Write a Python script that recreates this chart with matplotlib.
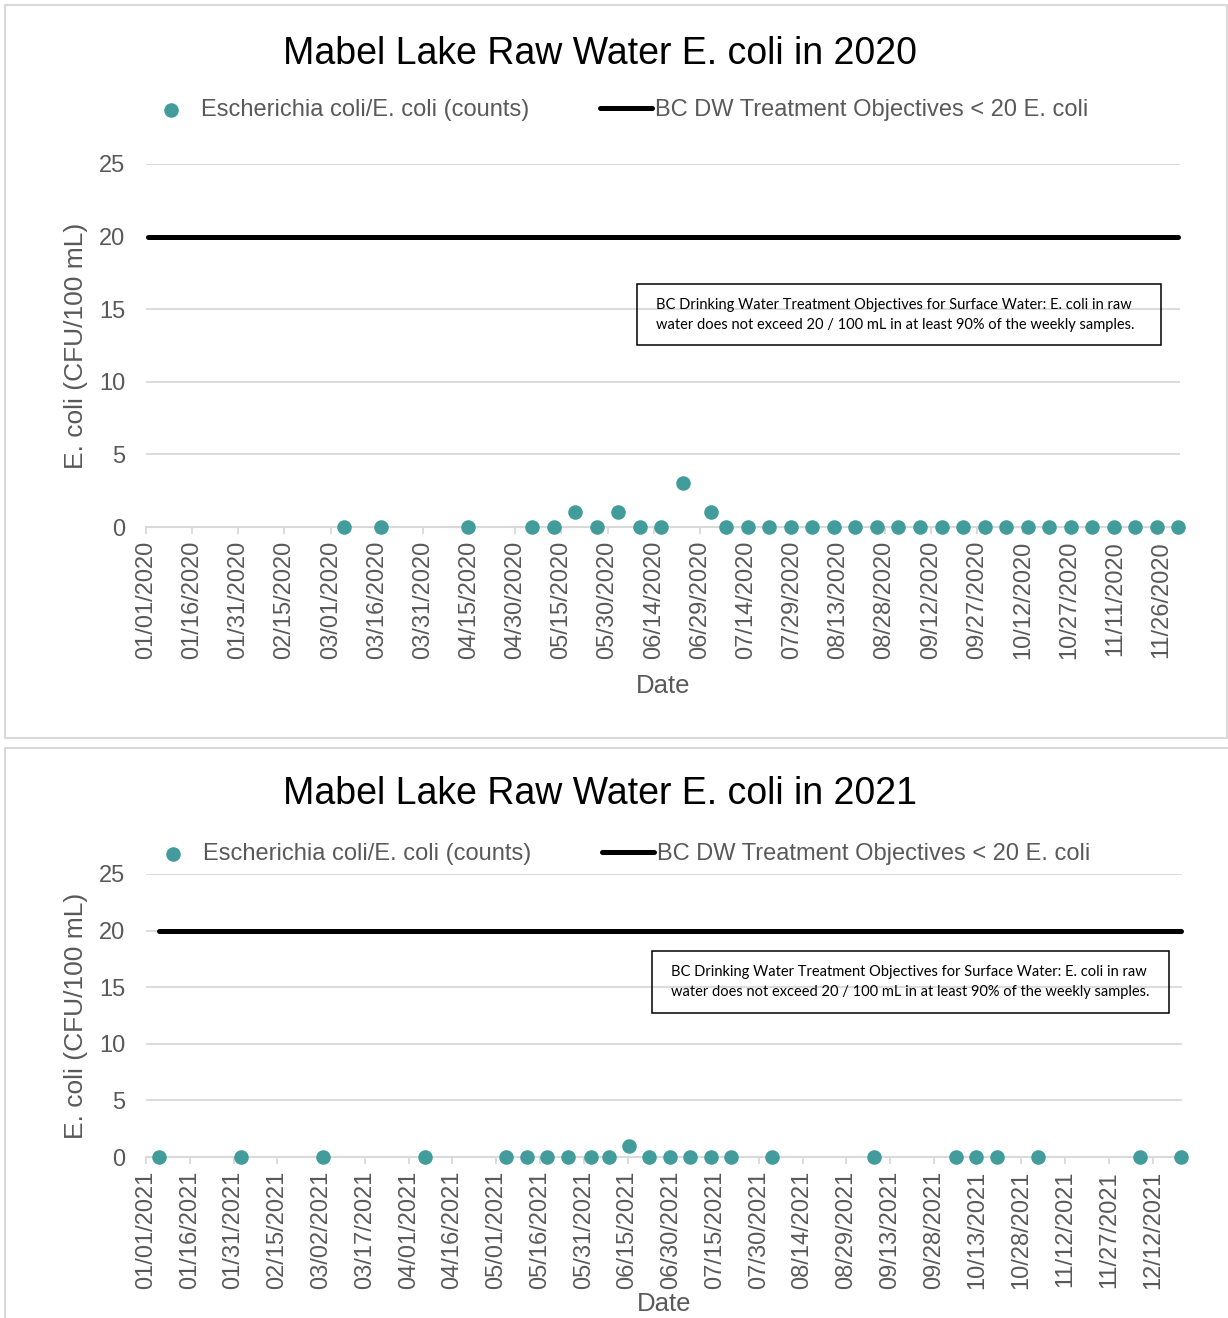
import matplotlib
matplotlib.use("Agg")
import matplotlib.pyplot as plt
import matplotlib.dates as mdates
import matplotlib.patches as patches
import pandas as pd

plt.rcParams["font.family"] = ["Liberation Sans", "DejaVu Sans"]

# weekly raw water samples (CFU/100 mL)
dates_2020 = ["2020-03-05", "2020-03-17", "2020-04-14", "2020-05-05", "2020-05-12",
              "2020-05-19", "2020-05-26", "2020-06-02", "2020-06-09", "2020-06-16",
              "2020-06-23", "2020-07-02", "2020-07-07", "2020-07-14", "2020-07-21",
              "2020-07-28", "2020-08-04", "2020-08-11", "2020-08-18", "2020-08-25",
              "2020-09-01", "2020-09-08", "2020-09-15", "2020-09-22", "2020-09-29",
              "2020-10-06", "2020-10-13", "2020-10-20", "2020-10-27", "2020-11-03",
              "2020-11-10", "2020-11-17", "2020-11-24", "2020-12-01"]
ecoli_2020 = [0, 0, 0, 0, 0,
              1, 0, 1, 0, 0,
              3, 1, 0, 0, 0,
              0, 0, 0, 0, 0,
              0, 0, 0, 0, 0,
              0, 0, 0, 0, 0,
              0, 0, 0, 0]

dates_2021 = ["2021-01-05", "2021-02-02", "2021-03-02", "2021-04-06", "2021-05-04",
              "2021-05-11", "2021-05-18", "2021-05-25", "2021-06-02", "2021-06-08",
              "2021-06-15", "2021-06-22", "2021-06-29", "2021-07-06", "2021-07-13",
              "2021-07-20", "2021-08-03", "2021-09-07", "2021-10-05", "2021-10-12",
              "2021-10-19", "2021-11-02", "2021-12-07", "2021-12-21"]
ecoli_2021 = [0, 0, 0, 0, 0,
              0, 0, 0, 0, 0,
              1, 0, 0, 0, 0,
              0, 0, 0, 0, 0,
              0, 0, 0, 0]

objective = 20
objective_2020 = ["2020-01-01", "2020-12-01"]
objective_2021 = ["2021-01-05", "2021-12-21"]

axis_range_2020 = ["2020-01-01", "2020-12-02"]
axis_range_2021 = ["2021-01-01", "2021-12-22"]

yticks = [0, 5, 10, 15, 20, 25]

series_label = "Escherichia coli/E. coli (counts)"
objective_label = "BC DW Treatment Objectives < 20 E. coli"
note_lines = ["BC Drinking Water Treatment Objectives for Surface Water: E. coli in raw",
              "water does not exceed 20 / 100 mL in at least 90% of the weekly samples."]

TEAL = "#439C9C"
GRID = "#D9D9D9"
GREY_TEXT = "#595959"

W, H = 1228, 1318
fig = plt.figure(figsize=(W / 100, H / 100), dpi=100)


def fx(px):
    return px / W


def fy(py):
    return 1 - py / H


def frame(x0, y0, x1, y1, color, lw):
    fig.patches.append(patches.Rectangle((fx(x0), fy(y1)), fx(x1) - fx(x0), fy(y0) - fy(y1),
                                         transform=fig.transFigure, fill=False,
                                         edgecolor=color, lw=lw))


# outer chart frames
frame(5, 5, 1227, 738, GRID, 1.5)
frame(5, 748, 1245, 1340, GRID, 1.5)


def draw_chart(year, dates, values, obj_dates, xrange, lay):
    left, right, top, bottom = lay["plot"]
    ax = fig.add_axes([fx(left), fy(bottom), fx(right) - fx(left), fy(top) - fy(bottom)])

    # date axis: each sample sits in the middle of its day slot
    half_day = pd.Timedelta(hours=12)
    x = pd.to_datetime(dates) + half_day
    xo = pd.to_datetime(obj_dates) + half_day

    ln, = ax.plot(xo, [objective, objective], color="black", lw=3.6,
                  solid_capstyle="round", zorder=2, clip_on=False)
    sc = ax.scatter(x, values, s=110, color=TEAL, linewidths=0, zorder=3, clip_on=False)

    x0, x1 = pd.to_datetime(xrange)
    ax.set_xlim(x0, x1)
    ax.set_ylim(0, 25)
    ax.set_xticks(pd.date_range(x0, x1, freq="15D"))
    ax.xaxis.set_major_formatter(mdates.DateFormatter("%m/%d/%Y"))
    ax.set_yticks(yticks)

    for s in ["top", "right", "left"]:
        ax.spines[s].set_visible(False)
    ax.spines["bottom"].set_color(GRID)
    ax.spines["bottom"].set_linewidth(1.5)
    ax.yaxis.grid(True, color=GRID, lw=1.3)
    ax.set_axisbelow(True)

    ax.tick_params(axis="y", length=0, pad=15, labelsize=17, labelcolor=GREY_TEXT)
    ax.tick_params(axis="x", length=5, width=1.3, color=GRID, pad=5, labelsize=17,
                   labelcolor=GREY_TEXT, labelrotation=90)

    fig.text(fx(lay["title"][0]), fy(lay["title"][1]), f"Mabel Lake Raw Water E. coli in {year}",
             ha="center", va="baseline", fontsize=27, color="black")

    fig.legend([sc, ln], [series_label, objective_label], loc="center",
               bbox_to_anchor=(fx(lay["legend"][0]), fy(lay["legend"][1])), ncol=2,
               frameon=False, fontsize=17, labelcolor=GREY_TEXT, handlelength=2.2,
               handletextpad=0.15, columnspacing=3.0, borderpad=0, borderaxespad=0,
               scatterpoints=1)

    fig.text(fx(76), fy((top + bottom) / 2), "E. coli (CFU/100 mL)", rotation=90,
             ha="center", va="center", fontsize=19, color=GREY_TEXT)
    fig.text(fx(lay["xlabel"][0]), fy(lay["xlabel"][1]), "Date", ha="center", va="center",
             fontsize=18.5, color=GREY_TEXT)

    # note box with the treatment objective
    bx0, by0, bx1, by1 = lay["note"]
    frame(bx0, by0, bx1, by1, "black", 1.1)
    for i, line in enumerate(note_lines):
        fig.text(fx(bx0 + 19), fy(by0 + 21 + 20 * i), line, ha="left", va="center",
                 fontsize=10.5, family=["Lato", "DejaVu Sans"], color="black")
    return ax


layout_2020 = {"plot": (146, 1180, 164, 527), "title": (600, 64), "legend": (617, 110),
               "xlabel": (663, 686), "note": (637, 284, 1161, 345)}
layout_2021 = {"plot": (146, 1182, 874, 1157), "title": (600, 804), "legend": (619, 854),
               "xlabel": (664, 1304), "note": (652, 951, 1169, 1013)}

draw_chart(2020, dates_2020, ecoli_2020, objective_2020, axis_range_2020, layout_2020)
draw_chart(2021, dates_2021, ecoli_2021, objective_2021, axis_range_2021, layout_2021)

fig.savefig("out.png", dpi=100)
